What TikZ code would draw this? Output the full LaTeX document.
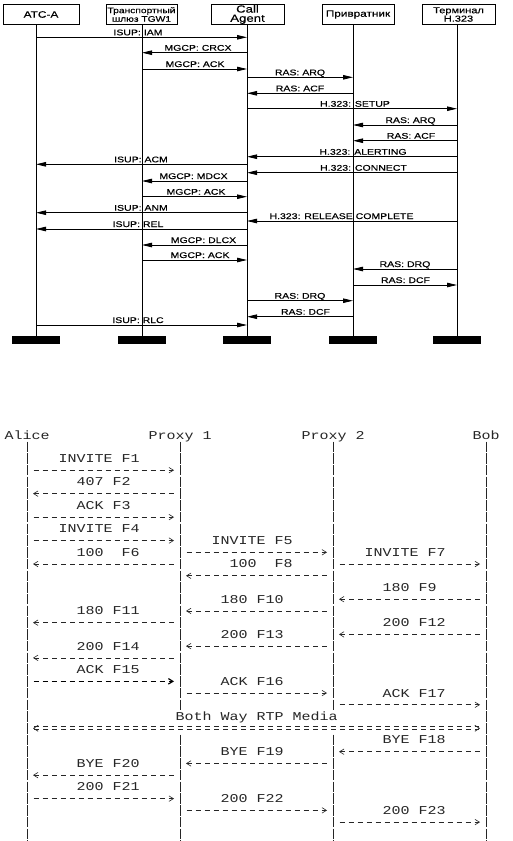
\documentclass[tikz,border=0pt]{standalone}
\usepackage{fontspec}
\setmainfont{Liberation Sans}
\newfontfamily\topfont[FakeStretch=1.28,FakeBold=0.35]{Liberation Sans}
\newfontfamily\asciifont[FakeStretch=1.25]{Liberation Mono}
\usetikzlibrary{arrows.meta}
\begin{document}
\begin{tikzpicture}[x=1pt,y=-1pt,
  hbox/.style={draw, line width=0.9pt, inner sep=0pt, minimum height=20pt, align=center},
  msg/.style={line width=0.8pt, -{Triangle[length=10pt,width=4.5pt]}},
  msglab/.style={font=\topfont\fontsize{8.2}{9}\selectfont, inner sep=0pt, anchor=base},
  lifeline/.style={line width=0.8pt},
  endbar/.style={fill=black, minimum width=48pt, minimum height=8pt, inner sep=0pt},
  asc/.style={font=\asciifont\fontsize{12}{12}\selectfont, text=black!85, inner sep=0pt, anchor=base west},
  sline/.style={line width=0.6pt, draw=black!85, dash pattern=on 10.5pt off 1.23pt},
  sarr/.style={line width=0.6pt, draw=black!85, dash pattern=on 5pt off 4pt, shorten <=6.5pt, shorten >=6pt, -{Straight Barb[length=4.5pt,width=5.5pt]}},
  sarrb/.style={sarr, line width=1.2pt, draw=black},
  eqarr/.style={line width=0.7pt, draw=black!85, double, double distance=2.2pt, dash pattern=on 5pt off 4pt, shorten <=6pt, shorten >=6pt, {Straight Barb[length=4.5pt,width=6pt]}-{Straight Barb[length=4.5pt,width=6pt]}}
]
\useasboundingbox (0,0) rectangle (512,841);
\fill[white] (0,0) rectangle (512,841);

% ---------- top diagram ----------
\node[hbox, minimum width=76pt, font=\topfont\fontsize{9.3}{9}\selectfont] (hA) at (41,14.5) {АТС-А};
\node[hbox, minimum width=71pt, font=\topfont\fontsize{8}{8.6}\selectfont] (hT) at (141.5,14.5) {Транспортный\\шлюз TGW1};
\node[hbox, minimum width=73pt, font=\topfont\fontsize{10.3}{9.2}\selectfont] (hC) at (247.5,14.5) {Call\\Agent};
\node[hbox, minimum width=72pt, font=\topfont\fontsize{9.2}{9}\selectfont] (hP) at (358,14.5) {Привратник};
\node[hbox, minimum width=73pt, font=\topfont\fontsize{8.6}{8.4}\selectfont] (hE) at (458.5,14.5) {Терминал\\H.323};

\coordinate (lA) at (36,24.5);
\coordinate (lT) at (142,24.5);
\coordinate (lC) at (247,24.5);
\coordinate (lP) at (353,24.5);
\coordinate (lE) at (457,24.5);

\node[endbar] (bA) at (36,340) {};
\node[endbar] (bT) at (142,340) {};
\node[endbar] (bC) at (247,340) {};
\node[endbar] (bP) at (353,340) {};
\node[endbar] (bE) at (457,340) {};

\foreach \ll/\bb in {lA/bA, lT/bT, lC/bC, lP/bP, lE/bE}
  \draw[lifeline] (\ll) -- (\bb.north);

\foreach \yy/\src/\dst/\txt/\lx [count=\i] in {
  37.3/lA/lC/{ISUP: IAM}/138,
  52.7/lC/lT/{MGCP: CRCX}/198,
  69/lT/lC/{MGCP: ACK}/195,
  77.3/lC/lP/{RAS: ARQ}/300,
  93.3/lP/lC/{RAS: ACF}/300,
  108.7/lC/lE/{H.323: SETUP}/355,
  125/lE/lP/{RAS: ARQ}/410.5,
  140.7/lE/lP/{RAS: ACF}/411,
  156.7/lE/lC/{H.323: ALERTING}/363,
  164.3/lC/lA/{ISUP: ACM}/141,
  172.7/lE/lC/{H.323: CONNECT}/363.5,
  181/lC/lT/{MGCP: MDCX}/193.5,
  196.7/lT/lC/{MGCP: ACK}/196,
  212.7/lC/lA/{ISUP: ANM}/141,
  221/lE/lC/{H.323: RELEASE COMPLETE}/341.5,
  229/lC/lA/{ISUP: REL}/138,
  245/lC/lT/{MGCP: DLCX}/203.5,
  260/lT/lC/{MGCP: ACK}/200,
  269/lE/lP/{RAS: DRQ}/405,
  285/lP/lE/{RAS: DCF}/405.5,
  300.7/lC/lP/{RAS: DRQ}/300,
  316.7/lP/lC/{RAS: DCF}/305.5,
  325/lA/lC/{ISUP: RLC}/138} {
  \draw[msg] (\src |- 0,\yy) -- (\dst |- 0,\yy);
  \node[msglab] (ml\i) at (\lx,\yy-2) {\txt};
}

% ---------- bottom diagram ----------
\node[asc] (alice)  at (4.5,439)   {Alice};
\node[asc] (proxy1) at (148.5,439) {Proxy 1};
\node[asc] (proxy2) at (301.5,439) {Proxy 2};
\node[asc] (bob)    at (472.5,439) {Bob};

\coordinate (LA)  at (27,441.5);
\coordinate (LP1) at (180,441.5);
\coordinate (LP2) at (333,441.5);
\coordinate (LB)  at (486,441.5);
\coordinate (LAe) at (27,841);
\coordinate (LBe) at (486,841);
\coordinate (LP1a) at (180,710.05);
\coordinate (LP1b) at (180,734.7);
\coordinate (LP1e) at (180,841);
\coordinate (LP2a) at (333,710.05);
\coordinate (LP2b) at (333,734.7);
\coordinate (LP2e) at (333,841);

\draw[sline] (LA) -- (LAe);
\draw[sline] (LB) -- (LBe);
\draw[sline] (LP1) -- (LP1a);
\draw[sline] (LP1b) -- (LP1e);
\draw[sline] (LP2) -- (LP2a);
\draw[sline] (LP2b) -- (LP2e);

\foreach \r/\src/\dst/\sty in {
  3/LA/LP1/sarr, 5/LP1/LA/sarr, 7/LA/LP1/sarr, 9/LA/LP1/sarr,
  10/LP1/LP2/sarr, 11/LP1/LA/sarr, 11/LP2/LB/sarr, 12/LP2/LP1/sarr,
  14/LB/LP2/sarr, 15/LP2/LP1/sarr, 16/LP1/LA/sarr, 17/LB/LP2/sarr,
  18/LP2/LP1/sarr, 19/LP1/LA/sarr, 21/LA/LP1/sarrb, 22/LP1/LP2/sarr,
  23/LP2/LB/sarr, 25/LA/LB/eqarr, 27/LB/LP2/sarr, 28/LP2/LP1/sarr,
  29/LP1/LA/sarr, 31/LA/LP1/sarr, 32/LP1/LP2/sarr, 33/LP2/LB/sarr} {
  \pgfmathsetmacro\yy{435+11.73*\r}
  \draw[\sty] (\src |- 0,\yy) -- (\dst |- 0,\yy);
}

\foreach \r/\c/\txt [count=\i] in {
  2/6/{INVITE F1}, 4/8/{407 F2}, 6/8/{ACK F3}, 8/6/{INVITE F4},
  9/23/{INVITE F5}, 10/8/{100\ \ F6}, 10/40/{INVITE F7}, 11/25/{100\ \ F8},
  13/42/{180 F9}, 14/24/{180 F10}, 15/8/{180 F11}, 16/42/{200 F12},
  17/24/{200 F13}, 18/8/{200 F14}, 20/8/{ACK F15}, 21/24/{ACK F16},
  22/42/{ACK F17}, 24/19/{Both Way RTP Media}, 26/42/{BYE F18},
  27/24/{BYE F19}, 28/8/{BYE F20}, 30/8/{200 F21}, 31/24/{200 F22},
  32/42/{200 F23}} {
  \pgfmathsetmacro\yy{435+11.73*\r+3.95}
  \pgfmathsetmacro\xx{4.5+9*\c}
  \node[asc] (al\i) at (\xx,\yy) {\txt};
}
\end{tikzpicture}
\end{document}
